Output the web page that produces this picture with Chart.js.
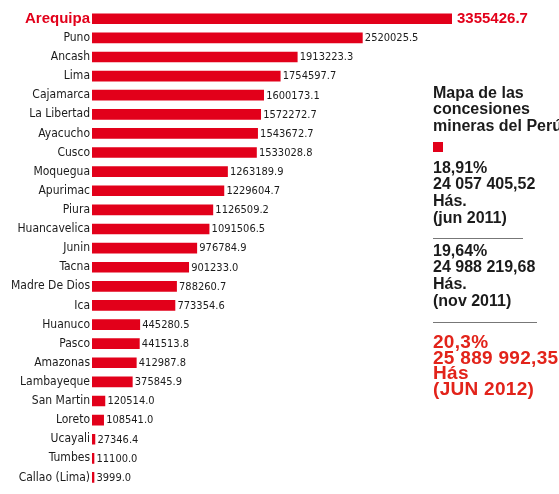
<!DOCTYPE html>
<html>
<head>
<meta charset="utf-8">
<script src="https://cdn.jsdelivr.net/npm/chart.js@4"></script>
<style>
  html, body { margin: 0; padding: 0; background: #fff; overflow: hidden; }
  #wrap { position: relative; width: 559px; height: 494px; overflow: hidden; }
  #side { position: absolute; left: 433px; top: 0; width: 140px; font-family: "Liberation Sans", Arial, sans-serif; font-weight: bold; white-space: nowrap; }
  #side .blk { position: absolute; left: 0; font-size: 16px; line-height: 16.7px; color: #1b1b1b; }
  #side .red { color: #e2231a; font-size: 19px; line-height: 15.7px; letter-spacing: 0.3px; }
  #side .rule { position: absolute; left: 0; height: 1px; background: #777; }
  #side .sq { position: absolute; left: 0; width: 10px; height: 10px; background: #e2001a; }
</style>
</head>
<body>
<div id="wrap">
  <canvas id="concesionesChart" width="559" height="498"></canvas>
  <div id="side"></div>
</div>
<script>
// Hectares under mining concessions by region
const regions = [
  "Arequipa", "Puno", "Ancash", "Lima", "Cajamarca", "La Libertad", "Ayacucho",
  "Cusco", "Moquegua", "Apurimac", "Piura", "Huancavelica", "Junin", "Tacna",
  "Madre De Dios", "Ica", "Huanuco", "Pasco", "Amazonas", "Lambayeque",
  "San Martin", "Loreto", "Ucayali", "Tumbes", "Callao (Lima)"
];
const hectares = [
  3355426.7, 2520025.5, 1913223.3, 1754597.7, 1600173.1, 1572272.7, 1543672.7,
  1533028.8, 1263189.9, 1229604.7, 1126509.2, 1091506.5, 976784.9, 901233.0,
  788260.7, 773354.6, 445280.5, 441513.8, 412987.8, 375845.9,
  120514.0, 108541.0, 27346.4, 11100.0, 3999.0
];

// side panel text
const panelTitle = ["Mapa de las", "concesiones", "mineras del Perú"];
const shares = ["18,91%", "19,64%", "20,3%"];
const totals = ["24 057 405,52", "24 988 219,68", "25 889 992,35"];
const units = ["Hás.", "Hás.", "Hás"];
const periods = ["(jun 2011)", "(nov 2011)", "(JUN 2012)"];

const RED = "#e2001a";
const labelFont = "'DejaVu Sans Condensed', 'Liberation Sans Narrow', Arial, sans-serif";

// side panel
const side = document.getElementById("side");
function block(lines, top, extraClass) {
  const d = document.createElement("div");
  d.className = "blk" + (extraClass ? " " + extraClass : "");
  d.style.top = top + "px";
  d.innerHTML = lines.map(function (l) { return "<div>" + l + "</div>"; }).join("");
  side.appendChild(d);
}
function rule(top, width) {
  const r = document.createElement("div");
  r.className = "rule";
  r.style.top = top + "px";
  r.style.width = width + "px";
  side.appendChild(r);
}
block(panelTitle, 84.5);
const sq = document.createElement("div");
sq.className = "sq";
sq.style.top = "142px";
side.appendChild(sq);
block([shares[0], totals[0], units[0], periods[0]], 159.6);
rule(238, 90);
block([shares[1], totals[1], units[1], periods[1]], 242.6);
rule(322, 104);
block([shares[2], totals[2], units[2], periods[2]], 333.8, "red");

// value labels at the end of each bar
const valueLabels = {
  id: "valueLabels",
  afterDatasetsDraw(chart) {
    const ctx = chart.ctx;
    const meta = chart.getDatasetMeta(0);
    ctx.save();
    ctx.textBaseline = "middle";
    ctx.textAlign = "left";
    meta.data.forEach(function (bar, i) {
      const txt = hectares[i].toFixed(1);
      if (i === 0) {
        ctx.font = "bold 15px 'Liberation Sans', Arial, sans-serif";
        ctx.fillStyle = RED;
        ctx.fillText(txt, bar.x + 5, bar.y + 0.5);
      } else {
        ctx.font = "11px " + labelFont;
        ctx.fillStyle = "#1b1b1b";
        ctx.fillText(txt, bar.x + 2.5, bar.y + 0.5);
      }
    });
    ctx.restore();
  }
};

const canvas = document.getElementById("concesionesChart");
new Chart(canvas.getContext("2d"), {
  type: "bar",
  data: {
    labels: regions,
    datasets: [
      {
        data: hectares,
        backgroundColor: RED,
        borderWidth: 0,
        barThickness: 10,
        minBarLength: 2,
      },
    ],
  },
  options: {
    indexAxis: "y",
    responsive: false,
    animation: false,
    layout: { padding: { top: 7, bottom: 1, left: 0, right: 107 } },
    plugins: {
      legend: { display: false },
      tooltip: { enabled: false },
    },
    scales: {
      x: {
        display: false,
        min: 0,
        max: Math.max.apply(null, hectares),
      },
      y: {
        afterFit: function (scale) { scale.width = 92; },
        grid: { display: false, drawTicks: false },
        border: { display: false },
        ticks: {
          padding: 2,
          autoSkip: false,
          color: function (c) { return c.index === 0 ? RED : "#1b1b1b"; },
          font: function (c) {
            return c.index === 0
              ? { family: "'Liberation Sans', Arial, sans-serif", size: 15, weight: "bold" }
              : { family: labelFont, size: 12, weight: "normal" };
          },
        },
      },
    },
  },
  plugins: [valueLabels],
});
</script>
</body>
</html>
